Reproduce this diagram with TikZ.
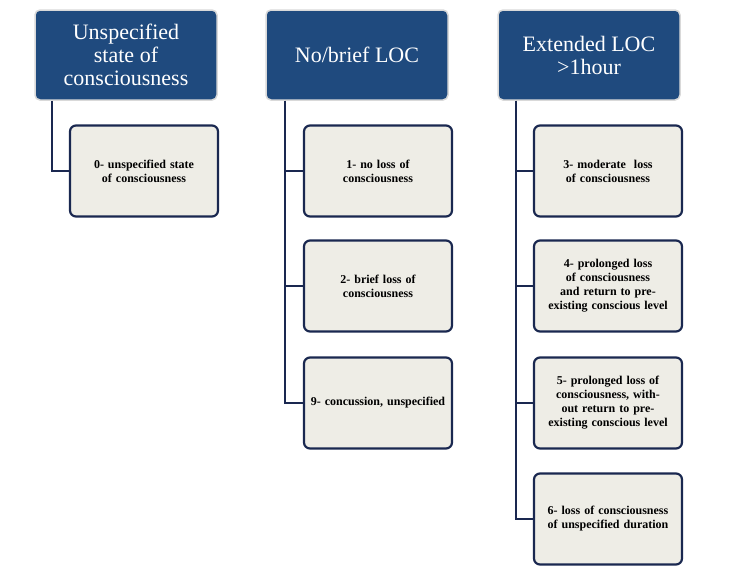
\documentclass[tikz,border=0pt]{standalone}
\usepackage{fontspec}
\setmainfont{Liberation Serif}
\begin{document}
\begin{tikzpicture}[x=1pt,y=-1pt,
 head/.style={draw=black!15,line width=1.5pt,fill=hdr,rounded corners=5pt,text=white,align=center,font=\fontsize{22}{23}\selectfont,minimum width=182pt,minimum height=90pt,inner sep=2pt},
 leaf/.style={draw=dk,line width=2.2pt,fill=lf,rounded corners=6pt,align=center,font=\bfseries\fontsize{12}{14}\selectfont,minimum width=148pt,minimum height=91pt,text width=136pt,inner sep=2pt},
 con/.style={draw=dk,line width=2.2pt}]
\definecolor{hdr}{HTML}{1F4A7E}
\definecolor{dk}{HTML}{1A2850}
\definecolor{lf}{HTML}{EEEDE6}
\useasboundingbox (0,0) rectangle (732,576);
\node[head] (h1) at (126,55) {Unspecified\\state of\\consciousness};
\node[head] (h2) at (357,55) {No/brief LOC};
\node[head] (h3) at (589,55) {Extended LOC\\>1hour};
\node[leaf] (a0) at (144,171) {0- unspecified state of consciousness};
\node[leaf] (b1) at (378,171) {1- no loss of consciousness};
\node[leaf] (b2) at (378,286) {2- brief loss of consciousness};
\node[leaf] (b9) at (378,403) {9- concussion, unspecified};
\node[leaf] (c3) at (608,171) {3- moderate\ \ loss of consciousness};
\node[leaf] (c4) at (608,286) {4- prolonged loss of consciousness and return to pre-existing conscious level};
\node[leaf] (c5) at (608,403) {5- prolonged loss of consciousness, without return to pre-existing conscious level};
\node[leaf] (c6) at (608,519) {6- loss of consciousness of unspecified duration};
\draw[con] (h1.south -| 52,0) |- (a0.west);
\foreach \n in {b1,b2,b9} \draw[con] (h2.south -| 285,0) |- (\n.west);
\foreach \n in {c3,c4,c5,c6} \draw[con] (h3.south -| 516,0) |- (\n.west);
\end{tikzpicture}
\end{document}
